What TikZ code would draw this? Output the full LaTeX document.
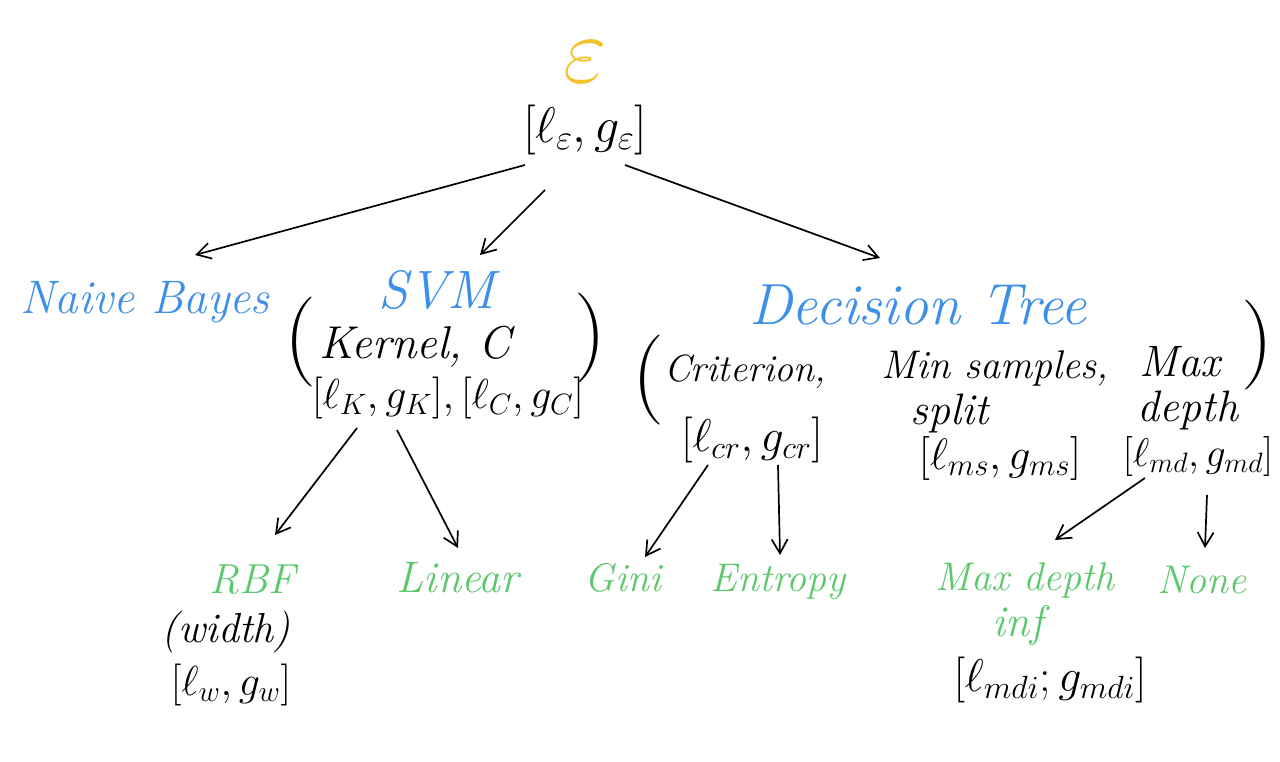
\RequirePackage{fix-cm}
\documentclass[tikz,border=0pt]{standalone}
\usepackage{tikz}
\usetikzlibrary{arrows.meta}

\definecolor{epsyellow}{HTML}{F2C230}
\definecolor{algblue}{HTML}{3D8FE8}
\definecolor{optgreen}{HTML}{5CC86C}

\begin{document}
\begin{tikzpicture}[x=1pt, y=-1pt, >={Straight Barb[length=14pt,width=16pt]}, line width=1.7pt,
    sz/.style={font=\itshape\fontsize{#1}{#1}\selectfont},
    txt/.style={inner sep=0pt, sz=40},
    algo/.style={txt, text=algblue},
    opt/.style={txt, text=optgreen},
    param/.style={txt, text=black},
    paren/.style={inner sep=0pt, font=\fontsize{90}{90}\selectfont}]
    % Khung
    \fill[white] (0,0) rectangle (1280,762);
    \useasboundingbox (0,0) rectangle (1280,762);

    % Gốc
    \node[text=epsyellow, inner sep=0pt, font=\fontsize{95}{95}\selectfont] (eps) at (585,62) {$\varepsilon$};
    \node[param, sz=50] (root) at (585,130) {$[\ell_{\varepsilon}, g_{\varepsilon}]$};

    % Thuật toán
    \node[algo, sz=47] (nb) at (145,302) {Naive Bayes};
    \node[algo, sz=54] (svm) at (437,290) {SVM};
    \node[algo, sz=58] (dt) at (918,305) {Decision Tree};

    % Tham số SVM
    \node[paren] (svmL) at (300,342) {(};
    \node[paren] (svmR) at (590,338) {)};
    \node[param, sz=46] (kern) at (415,347) {Kernel, C};
    \node[param, sz=42] (svmp) at (448,398) {$[\ell_K, g_K], [\ell_C, g_C]$};

    % Tham số cây quyết định
    \node[paren] (dtL) at (648,380) {(};
    \node[paren] (dtR) at (1257,345) {)};
    \node[param, sz=38] (crit) at (745,372) {Criterion,};
    \node[param, sz=46] (crp) at (752,440) {$[\ell_{cr}, g_{cr}]$};
    \node[param] (ms) at (995,368) {Min samples,};
    \node[param, sz=44] (msplit) at (950,413) {split};
    \node[param, sz=44] (msp) at (1000,458) {$[\ell_{ms}, g_{ms}]$};
    \node[param, sz=44] (maxd) at (1180,362) {Max};
    \node[param, sz=44] (depth) at (1188,410) {depth};
    \node[param] (mdp) at (1198,456) {$[\ell_{md}, g_{md}]$};

    % Giá trị
    \node[opt, sz=42] (rbf) at (252,580) {RBF};
    \node[param, sz=42] (width) at (226,632) {(width)};
    \node[param, sz=42] (wp) at (231,685) {$[\ell_w, g_w]$};
    \node[opt, sz=44] (lin) at (458,578) {Linear};
    \node[opt] (gini) at (623,578) {Gini};
    \node[opt] (ent) at (778,582) {Entropy};
    \node[opt] (mdi) at (1025,580) {Max depth};
    \node[opt, sz=44] (inf) at (1018,625) {inf};
    \node[param, sz=46] (mdip) at (1050,680) {$[\ell_{mdi}; g_{mdi}]$};
    \node[opt] (none) at (1202,580) {None};

    % Mũi tên
    \draw[->] ([xshift=-60pt,yshift=-35pt]root.center) -- ([xshift=50pt,yshift=47pt]nb.center);
    \draw[->] ([xshift=-40pt,yshift=-60pt]root.center) -- ([xshift=43pt,yshift=35pt]svm.center);
    \draw[->] ([xshift=40pt,yshift=-35pt]root.center) -- ([xshift=-38pt,yshift=47pt]dt.center);
    \draw[->] ([xshift=-91pt,yshift=-30pt]svmp.center) -- ([xshift=23pt,yshift=45pt]rbf.center);
    \draw[->] ([xshift=-51pt,yshift=-32pt]svmp.center) -- ([yshift=30pt]lin.center);
    \draw[->] ([xshift=-44pt,yshift=-25pt]crp.center) -- ([xshift=22pt,yshift=21pt]gini.center);
    \draw[->] ([xshift=26pt,yshift=-25pt]crp.center) -- ([xshift=2pt,yshift=27pt]ent.center);
    \draw[->] ([xshift=-53pt,yshift=-22pt]mdp.center) -- ([xshift=30pt,yshift=40pt]mdi.center);
    \draw[->] ([xshift=9pt,yshift=-39pt]mdp.center) -- ([xshift=3pt,yshift=32pt]none.center);
\end{tikzpicture}
\end{document}
